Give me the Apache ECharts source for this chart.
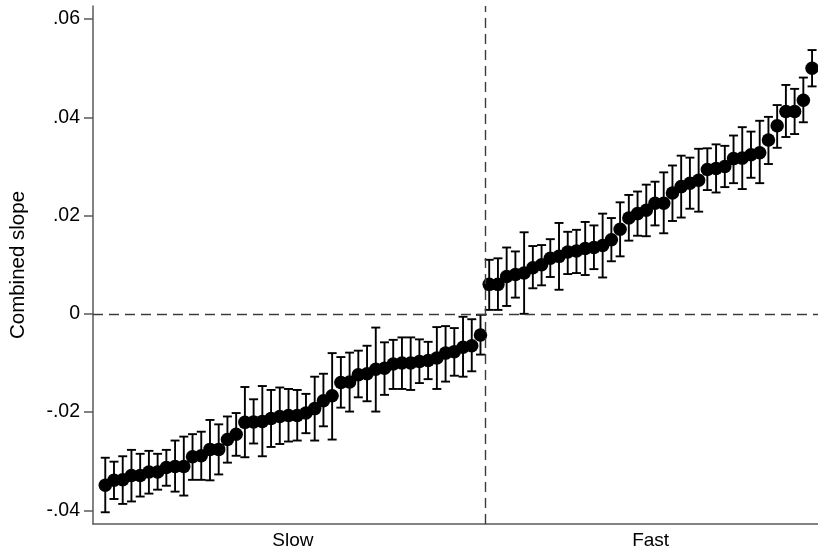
<!DOCTYPE html>
<html>
<head>
<meta charset="utf-8">
<script src="https://cdn.jsdelivr.net/npm/echarts@6/dist/echarts.min.js"></script>
<style>html,body{margin:0;padding:0;background:#fff}#c{width:818px;height:551px}</style>
</head>
<body>
<div id="c"></div>
<script>
// Point estimates (sorted), lower and upper CI bounds
const estimates = [
-0.0349,-0.0339,-0.0338,-0.0329,-0.0329,-0.0322,-0.0322,-0.0313,-0.0311,-0.0311,
-0.0291,-0.0289,-0.0276,-0.0276,-0.0256,-0.0245,-0.0221,-0.0220,-0.0219,-0.0213,
-0.0209,-0.0207,-0.0207,-0.0202,-0.0193,-0.0177,-0.0167,-0.0140,-0.0139,-0.0124,
-0.0122,-0.0113,-0.0111,-0.0102,-0.0100,-0.0100,-0.0097,-0.0095,-0.0090,-0.0080,
-0.0077,-0.0068,-0.0065,-0.0043,
0.0060,0.0060,0.0076,0.0080,0.0083,0.0094,0.0100,0.0113,0.0117,0.0126,
0.0128,0.0133,0.0135,0.0139,0.0151,0.0172,0.0195,0.0204,0.0211,0.0225,
0.0225,0.0246,0.0259,0.0266,0.0272,0.0294,0.0296,0.0300,0.0316,0.0317,
0.0324,0.0328,0.0354,0.0383,0.0412,0.0412,0.0435,0.0500
];
const lowerCI = [
-0.0404,-0.0377,-0.0387,-0.0382,-0.0372,-0.0366,-0.0358,-0.0350,-0.0362,-0.0370,
-0.0338,-0.0338,-0.0339,-0.0327,-0.0303,-0.0289,-0.0292,-0.0264,-0.0290,-0.0271,
-0.0265,-0.0260,-0.0258,-0.0243,-0.0258,-0.0229,-0.0256,-0.0191,-0.0199,-0.0170,
-0.0178,-0.0199,-0.0165,-0.0153,-0.0153,-0.0155,-0.0141,-0.0133,-0.0153,-0.0138,
-0.0126,-0.0128,-0.0117,-0.0083,
0.0008,0.0008,0.0016,0.0033,0.0000,0.0052,0.0058,0.0075,0.0049,0.0081,
0.0083,0.0079,0.0091,0.0074,0.0107,0.0117,0.0149,0.0159,0.0158,0.0180,
0.0164,0.0189,0.0196,0.0214,0.0208,0.0252,0.0247,0.0258,0.0266,0.0254,
0.0277,0.0266,0.0305,0.0338,0.0360,0.0366,0.0390,0.0463
];
const upperCI = [
-0.0293,-0.0301,-0.0290,-0.0277,-0.0285,-0.0279,-0.0285,-0.0277,-0.0258,-0.0250,
-0.0245,-0.0240,-0.0216,-0.0225,-0.0209,-0.0202,-0.0149,-0.0174,-0.0147,-0.0155,
-0.0150,-0.0153,-0.0155,-0.0163,-0.0128,-0.0122,-0.0080,-0.0088,-0.0079,-0.0075,
-0.0065,-0.0028,-0.0058,-0.0053,-0.0048,-0.0048,-0.0052,-0.0057,-0.0027,-0.0025,
-0.0029,-0.0006,-0.0011,-0.0002,
0.0110,0.0113,0.0135,0.0127,0.0166,0.0138,0.0140,0.0152,0.0185,0.0167,
0.0171,0.0187,0.0180,0.0204,0.0195,0.0227,0.0242,0.0249,0.0263,0.0269,
0.0288,0.0302,0.0322,0.0318,0.0336,0.0337,0.0345,0.0342,0.0363,0.0380,
0.0371,0.0393,0.0401,0.0425,0.0466,0.0458,0.0481,0.0537
];
const groupNames = ['Slow', 'Fast'];
const groupCenters = [22.5, 63.5];
const groupSplit = 44.5;
const yTickValues = [-0.04, -0.02, 0, 0.02, 0.04, 0.06];
const yTickLabels = ['-.04', '-.02', '0', '.02', '.04', '.06'];
const yTitle = 'Combined slope';

const ranks = estimates.map((_, i) => i + 1);
const pointData = estimates.map((v, i) => [ranks[i], v]);
const barData = estimates.map((v, i) => [ranks[i], lowerCI[i], upperCI[i]]);

const chart = echarts.init(document.getElementById('c'), null, {renderer: 'canvas'});
const FONT = 'Liberation Sans, Arial, sans-serif';
const axisColor = '#5a5a5a';

chart.setOption({
  backgroundColor: '#fff',
  animation: false,
  grid: {left: 91, right: 0, top: 6, bottom: 27, containLabel: false},
  xAxis: {
    type: 'value',
    min: -0.406, max: 82.68,
    splitLine: {show: false},
    axisLine: {show: true, onZero: false, lineStyle: {color: axisColor, width: 1.5}},
    axisTick: {show: false},
    axisLabel: {
      customValues: groupCenters,
      formatter: v => groupNames[groupCenters.indexOf(v)] || '',
      color: '#000', fontFamily: FONT, fontSize: 19, margin: 7
    }
  },
  yAxis: {
    type: 'value',
    min: -0.04279, max: 0.06267,
    name: yTitle,
    nameLocation: 'middle',
    nameGap: 64,
    nameRotate: 90,
    nameTextStyle: {color: '#000', fontFamily: FONT, fontSize: 20.5},
    splitLine: {show: false},
    axisLine: {show: true, onZero: false, lineStyle: {color: axisColor, width: 1.5}},
    axisTick: {show: true, inside: false, customValues: yTickValues, length: 9, lineStyle: {color: axisColor, width: 1.5}},
    axisLabel: {
      customValues: yTickValues,
      formatter: v => {
        let best = 0;
        yTickValues.forEach((t, i) => { if (Math.abs(t - v) < Math.abs(yTickValues[best] - v)) best = i; });
        return yTickLabels[best];
      },
      color: '#000', fontFamily: FONT, fontSize: 19.5, margin: 13
    }
  },
  series: [
    {
      type: 'custom',
      data: barData,
      z: 2,
      renderItem: function (params, api) {
        const x = api.value(0);
        const top = api.coord([x, api.value(2)]);
        const bot = api.coord([x, api.value(1)]);
        const hw = 4.5;
        const st = {stroke: '#000', lineWidth: 1.9};
        return {
          type: 'group',
          children: [
            {type: 'line', shape: {x1: top[0], y1: top[1], x2: bot[0], y2: bot[1]}, style: st},
            {type: 'line', shape: {x1: top[0] - hw, y1: top[1], x2: top[0] + hw, y2: top[1]}, style: st},
            {type: 'line', shape: {x1: bot[0] - hw, y1: bot[1], x2: bot[0] + hw, y2: bot[1]}, style: st}
          ]
        };
      }
    },
    {
      type: 'scatter',
      data: pointData,
      symbol: 'circle',
      symbolSize: 13.5,
      z: 3,
      itemStyle: {color: '#000', opacity: 1},
      markLine: {
        silent: true,
        symbol: 'none',
        label: {show: false},
        lineStyle: {type: [10, 6], color: '#3c3c3c', width: 1.4},
        data: [{yAxis: 0}, {xAxis: groupSplit}]
      }
    }
  ]
});
</script>
</body>
</html>
